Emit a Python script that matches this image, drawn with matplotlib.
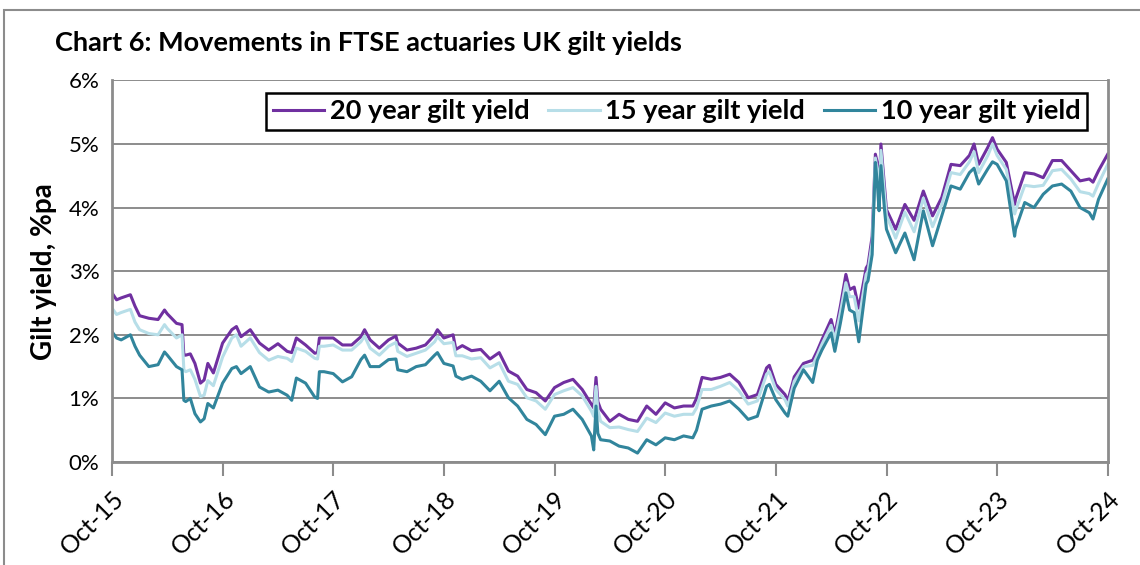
import matplotlib
matplotlib.use("Agg")
import matplotlib.pyplot as plt
import matplotlib.patches as patches
import numpy as np
import pandas as pd

# Months after end Oct-2015 (extra points where the series jump)
months = [0, 0.5, 1, 2, 2.5, 3, 4, 5, 5.7, 6, 7, 7.6, 7.8, 8, 8.5, 9, 9.6, 10, 10.4, 11,
          12, 13, 13.5, 14, 15, 16, 17, 18, 19, 19.5, 20, 21, 22, 22.3, 22.5, 23, 24, 25, 26,
          27, 27.4, 28, 29, 30, 30.8, 31, 32, 33, 34, 35, 35.3, 36, 37, 37.3, 38, 39, 40,
          41, 42, 43, 44, 45, 46, 47, 48, 49, 50, 51, 52, 52.25, 52.5, 52.7, 53, 54, 55,
          56, 57, 58, 59, 60, 61, 62, 63, 63.4, 64, 65, 66, 67, 68, 69, 70, 71, 71.3, 72,
          73, 73.3, 74, 75, 76, 76.5, 77, 78, 78.4, 79, 79.6, 80, 80.5, 81, 81.8, 82, 82.45,
          82.8, 83, 83.2, 83.4, 83.8, 84, 85, 86, 87, 88, 89, 90, 91, 92, 93, 93.5, 94, 95,
          95.5, 96, 97, 97.9, 98, 99, 100, 101, 102, 103, 104, 105, 106, 106.4, 107, 108]

yield_20y = [2.66, 2.55, 2.58, 2.63, 2.45, 2.30, 2.26, 2.24, 2.39, 2.33, 2.18, 2.16, 1.68, 1.68, 1.70, 1.55, 1.24, 1.29, 1.55, 1.40,
             1.87, 2.08, 2.13, 1.97, 2.08, 1.87, 1.76, 1.86, 1.74, 1.72, 1.95, 1.84, 1.71, 1.72, 1.95, 1.95, 1.95, 1.84, 1.84,
             1.97, 2.08, 1.92, 1.79, 1.92, 1.98, 1.87, 1.76, 1.79, 1.84, 2.00, 2.08, 1.95, 2.00, 1.77, 1.83, 1.75, 1.77,
             1.62, 1.72, 1.43, 1.35, 1.14, 1.09, 0.96, 1.17, 1.25, 1.30, 1.14, 0.91, 0.85, 1.33, 0.95, 0.83, 0.64, 0.75,
             0.67, 0.64, 0.88, 0.75, 0.93, 0.85, 0.88, 0.88, 1.00, 1.33, 1.30, 1.33, 1.38, 1.25, 1.01, 1.06, 1.48, 1.52, 1.22,
             1.06, 0.96, 1.34, 1.55, 1.60, 1.75, 1.92, 2.24, 2.00, 2.45, 2.95, 2.71, 2.75, 2.42, 3.05, 3.10, 3.55,
             4.84, 4.71, 4.25, 5.00, 4.30, 3.97, 3.66, 4.05, 3.80, 4.26, 3.87, 4.16, 4.68, 4.66, 4.82, 5.00, 4.68, 4.95,
             5.10, 4.92, 4.71, 4.05, 4.13, 4.55, 4.53, 4.47, 4.74, 4.74, 4.58, 4.42, 4.45, 4.40, 4.58, 4.84]

yield_15y = [2.42, 2.32, 2.35, 2.40, 2.20, 2.08, 2.02, 2.00, 2.16, 2.10, 1.95, 2.00, 1.45, 1.42, 1.45, 1.30, 1.03, 1.05, 1.28, 1.20,
             1.65, 1.95, 2.00, 1.82, 1.95, 1.72, 1.60, 1.66, 1.63, 1.58, 1.79, 1.74, 1.63, 1.62, 1.82, 1.82, 1.84, 1.76, 1.76,
             1.89, 1.98, 1.79, 1.68, 1.82, 1.88, 1.74, 1.66, 1.71, 1.76, 1.89, 1.97, 1.86, 1.88, 1.67, 1.67, 1.62, 1.64,
             1.48, 1.56, 1.27, 1.22, 1.01, 0.96, 0.83, 1.06, 1.12, 1.17, 1.04, 0.80, 0.72, 1.19, 0.82, 0.64, 0.54, 0.55,
             0.51, 0.48, 0.69, 0.62, 0.77, 0.72, 0.75, 0.75, 0.85, 1.14, 1.14, 1.19, 1.25, 1.12, 0.91, 0.96, 1.38, 1.42, 1.14,
             0.98, 0.88, 1.27, 1.50, 1.52, 1.68, 1.85, 2.15, 1.92, 2.35, 2.82, 2.60, 2.60, 2.22, 2.95, 3.00, 3.45,
             4.78, 4.60, 4.15, 4.90, 4.20, 3.88, 3.52, 3.93, 3.62, 4.15, 3.70, 4.05, 4.55, 4.52, 4.72, 4.88, 4.55, 4.82,
             5.00, 4.82, 4.60, 3.90, 3.95, 4.35, 4.33, 4.35, 4.58, 4.60, 4.45, 4.25, 4.22, 4.18, 4.38, 4.68]

yield_10y = [2.05, 1.95, 1.92, 2.00, 1.82, 1.68, 1.50, 1.53, 1.73, 1.68, 1.50, 1.45, 0.97, 0.95, 1.00, 0.76, 0.63, 0.68, 0.92, 0.85,
             1.24, 1.47, 1.50, 1.39, 1.50, 1.18, 1.10, 1.13, 1.05, 0.97, 1.32, 1.24, 1.02, 1.00, 1.42, 1.42, 1.39, 1.26, 1.34,
             1.61, 1.68, 1.50, 1.50, 1.61, 1.62, 1.45, 1.42, 1.50, 1.53, 1.68, 1.72, 1.55, 1.51, 1.35, 1.30, 1.35, 1.27,
             1.12, 1.27, 1.01, 0.88, 0.67, 0.59, 0.43, 0.72, 0.75, 0.83, 0.67, 0.41, 0.19, 0.88, 0.45, 0.35, 0.33, 0.25,
             0.22, 0.14, 0.35, 0.27, 0.38, 0.35, 0.41, 0.38, 0.50, 0.83, 0.88, 0.91, 0.96, 0.83, 0.67, 0.72, 1.19, 1.22, 0.98,
             0.77, 0.72, 1.16, 1.45, 1.25, 1.60, 1.76, 2.03, 1.74, 2.18, 2.66, 2.39, 2.35, 1.89, 2.80, 2.85, 3.26,
             4.71, 4.40, 3.95, 4.66, 3.95, 3.66, 3.29, 3.60, 3.18, 3.95, 3.40, 3.87, 4.34, 4.29, 4.55, 4.62, 4.37, 4.61,
             4.72, 4.68, 4.42, 3.55, 3.66, 4.08, 4.00, 4.21, 4.34, 4.37, 4.26, 4.00, 3.92, 3.82, 4.13, 4.45]

tick_labels = ["Oct-15", "Oct-16", "Oct-17", "Oct-18", "Oct-19",
               "Oct-20", "Oct-21", "Oct-22", "Oct-23", "Oct-24"]

start = pd.Timestamp("2015-10-31")
dates = start + pd.to_timedelta(np.array(months) * 30.4375, unit="D")
tick_dates = [pd.Timestamp(f"{2015 + i}-10-31") for i in range(len(tick_labels))]

plt.rcParams["font.family"] = ["Lato", "DejaVu Sans"]

fig = plt.figure(figsize=(11.4, 5.65), dpi=100)
ax = fig.add_axes([0.0982, 0.1823, 0.8737, 0.6754])

# Outer chart frame (cut off at right and bottom like the source)
fig.patches.append(patches.Rectangle((4 / 1140, -0.1), 1.2, 1 - 10 / 565 + 0.1,
                                     transform=fig.transFigure, fill=False,
                                     edgecolor="#8c8c8c", linewidth=1.5))

ax.plot(dates, yield_20y, color="#7030A0", linewidth=2.2, label="20 year gilt yield")
ax.plot(dates, yield_15y, color="#B7DEE8", linewidth=2.2, label="15 year gilt yield")
ax.plot(dates, yield_10y, color="#31859C", linewidth=2.2, label="10 year gilt yield")

ax.set_xlim(start, pd.Timestamp("2024-10-31"))
ax.set_ylim(0, 6)
ax.set_yticks(range(0, 7))
ax.set_yticklabels([f"{v}%" for v in range(0, 7)], fontsize=16)
ax.set_xticks(tick_dates)
ax.set_xticklabels(tick_labels, fontsize=18, rotation=45, ha="right",
                   va="top", rotation_mode="anchor")
ax.tick_params(axis="x", length=10, width=1.5, color="#8c8c8c", pad=8)
ax.tick_params(axis="y", length=0, pad=9)

ax.grid(axis="y", color="#8c8c8c", linewidth=1.4)
ax.set_axisbelow(True)
for side in ["left", "bottom", "right"]:
    ax.spines[side].set_color("#8c8c8c")
    ax.spines[side].set_linewidth(2)
ax.spines["top"].set_visible(False)

ax.set_ylabel("Gilt yield, %pa", fontsize=20, fontweight="bold", labelpad=8)

fig.text(55 / 1140, 1 - 43 / 565, "Chart 6: Movements in FTSE actuaries UK gilt yields",
         fontsize=19.5, fontweight="bold", va="center", ha="left")

leg = ax.legend(loc="upper right", bbox_to_anchor=(0.979, 0.968), ncol=3,
                prop={"weight": "bold", "size": 19.5},
                frameon=True, fancybox=False, handlelength=1.9, handletextpad=0.2,
                columnspacing=0.7, borderpad=0.25, borderaxespad=0)
leg.get_frame().set_edgecolor("black")
leg.get_frame().set_linewidth(1.8)
leg.get_frame().set_alpha(1)

fig.savefig("out.png", dpi=100)
